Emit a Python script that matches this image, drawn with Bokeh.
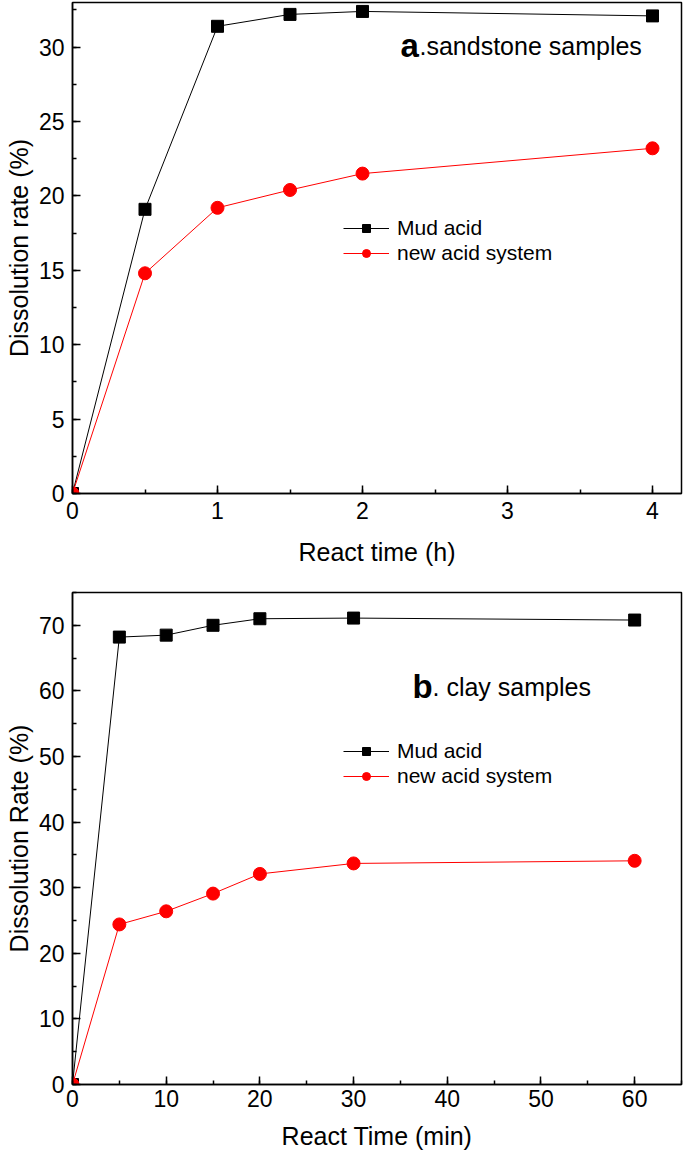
from bokeh.plotting import figure
from bokeh.layouts import column
from bokeh.models import Range1d, Legend, LegendItem, Label, SingleIntervalTicker
from bokeh.embed import file_html
from bokeh.resources import INLINE

# ---- data panel a ----
time_h = [0, 0.5, 1, 1.5, 2, 4]
mud_a = [0, 19.1, 31.4, 32.2, 32.4, 32.1]
new_a = [0, 14.8, 19.2, 20.4, 21.5, 23.2]

# ---- data panel b ----
time_min = [0, 5, 10, 15, 20, 30, 60]
mud_b = [0, 68.2, 68.5, 70.0, 71.0, 71.1, 70.8]
new_b = [0, 24.4, 26.4, 29.1, 32.1, 33.7, 34.1]

FONT = "Liberation Sans"
W = 685


def style(p, xlabel, ylabel, xmaj, xmin_, ymaj, ymin_, xstand, xlstand):
    p.outline_line_color = "black"
    p.outline_line_width = 1.5
    p.xgrid.visible = False
    p.ygrid.visible = False
    p.xaxis.ticker = SingleIntervalTicker(interval=xmaj, num_minor_ticks=int(round(xmaj / xmin_)))
    p.yaxis.ticker = SingleIntervalTicker(interval=ymaj, num_minor_ticks=int(round(ymaj / ymin_)))
    for ax in (p.xaxis[0], p.yaxis[0]):
        ax.axis_line_width = 1.5
        ax.axis_line_color = "black"
        ax.major_tick_in = 8
        ax.major_tick_out = 0
        ax.minor_tick_in = 4
        ax.minor_tick_out = 0
        ax.major_tick_line_width = 1.5
        ax.minor_tick_line_width = 1.5
        ax.major_label_text_font = FONT
        ax.major_label_text_font_size = "23px"
        ax.major_label_text_color = "black"
        ax.axis_label_text_font = FONT
        ax.axis_label_text_font_size = "25px"
        ax.axis_label_text_font_style = "normal"
        ax.axis_label_text_color = "black"
    p.xaxis.axis_label = xlabel
    p.yaxis.axis_label = ylabel
    p.xaxis.major_label_standoff = xstand
    p.xaxis.axis_label_standoff = xlstand
    p.yaxis.major_label_standoff = 8
    p.yaxis.axis_label_standoff = 3


def add_series(p, x, ymud, ynew, leg_x, leg_y):
    l1 = p.line(x, ymud, line_color="black", line_width=1)
    m1 = p.scatter(x, ymud, marker="square", size=12, fill_color="black", line_color="black")
    l2 = p.line(x, ynew, line_color="red", line_width=1)
    m2 = p.scatter(x, ynew, marker="circle", size=13, fill_color="red", line_color="red")
    leg = Legend(items=[LegendItem(label="Mud acid", renderers=[l1, m1]),
                        LegendItem(label="new acid system", renderers=[l2, m2])],
                 location=(leg_x, leg_y))
    leg.border_line_alpha = 0
    leg.background_fill_alpha = 0
    leg.label_text_font = FONT
    leg.label_text_font_size = "21px"
    leg.label_text_color = "black"
    leg.glyph_width = 46
    leg.glyph_height = 20
    leg.label_height = 20
    leg.spacing = 1
    leg.padding = 0
    leg.margin = 0
    leg.label_standoff = 8
    p.add_layout(leg, "center")


def add_title(p, letter, rest, x, y, gap):
    p.add_layout(Label(x=x, y=y, x_units="screen", y_units="screen", text=letter,
                       text_font=FONT, text_font_size="33px", text_font_style="bold",
                       text_color="black", text_baseline="alphabetic"))
    p.add_layout(Label(x=x + gap, y=y, x_units="screen", y_units="screen", text=rest,
                       text_font=FONT, text_font_size="25px",
                       text_color="black", text_baseline="alphabetic"))


# ---- panel a ----
pa = figure(width=W, height=575, output_backend="svg", toolbar_location=None,
            x_range=Range1d(0, 4.2), y_range=Range1d(0, 33),
            min_border_left=72, min_border_right=4, min_border_top=2, min_border_bottom=82)
style(pa, "React time (h)", "Dissolution rate (%)", 1, 0.5, 5, 2.5, 8, 16)
add_series(pa, time_h, mud_a, new_a, 271, 228)
add_title(pa, "a", ".sandstone samples", 328, 448, 19)

# ---- panel b ----
pb = figure(width=W, height=588, output_backend="svg", toolbar_location=None,
            x_range=Range1d(0, 65), y_range=Range1d(0, 75),
            min_border_left=72, min_border_right=4, min_border_top=17, min_border_bottom=79)
style(pb, "React Time (min)", "Dissolution Rate (%)", 10, 5, 10, 5, 5, 12)
add_series(pb, time_min, mud_b, new_b, 271, 296)
add_title(pb, "b", ". clay samples", 340, 398, 20)

layout = column(pa, pb)
open("out.html", "w").write(file_html(layout, INLINE))
